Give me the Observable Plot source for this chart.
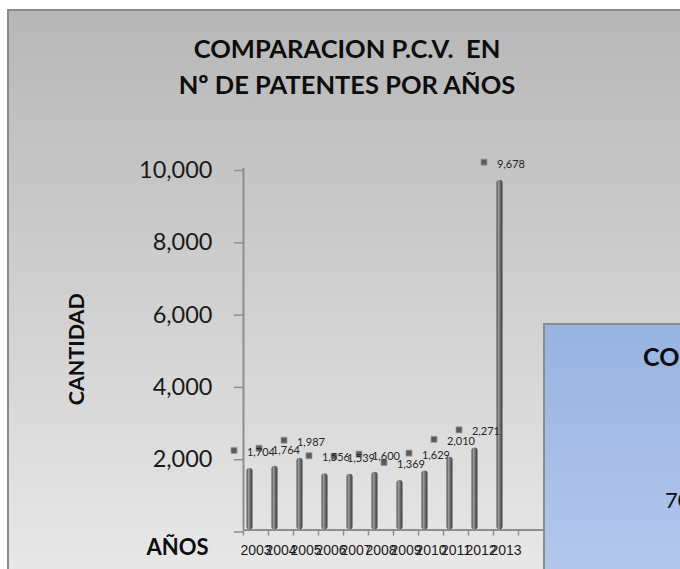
<!DOCTYPE html>
<html>
<head>
<meta charset="utf-8">
<script src="https://cdn.jsdelivr.net/npm/d3@7"></script>
<script src="https://cdn.jsdelivr.net/npm/@observablehq/plot@0.6"></script>
<style>
html,body{margin:0;padding:0;background:#fff;}
#wrap{position:relative;width:680px;height:569px;overflow:hidden;font-family:Lato,"Open Sans",sans-serif;}
#panel{position:absolute;left:7px;top:9px;width:700px;height:600px;border-left:2px solid #8a8a8a;border-top:2px solid #8a8a8a;background:linear-gradient(to bottom,#b7b7b7 0px,#e8e8e8 560px);}
#title{position:absolute;left:0;top:30px;width:694px;text-align:center;font-weight:700;font-size:25.5px;line-height:36px;color:#0d0d0d;white-space:pre;}
#chart{position:absolute;left:0;top:110px;}
#box{position:absolute;left:543px;top:323px;width:200px;height:260px;border:2px solid #8c8c8c;background:linear-gradient(to bottom,#98b3e2,#b5c8ec);z-index:5;}
#box span{position:absolute;white-space:nowrap;color:#0d0d0d;}
</style>
</head>
<body>
<div id="wrap">
  <div id="panel"></div>
  <div id="title">COMPARACION P.C.V.  EN
Nº DE PATENTES POR AÑOS</div>
  <div id="chart"></div>
  <div id="box">
    <span style="left:98px;top:19px;font-size:25px;line-height:25px;font-weight:700;">CO</span>
    <span style="left:120px;top:164px;font-size:22px;line-height:22px;">70</span>
  </div>
</div>
<script>
const years = ["2003","2004","2005","2006","2007","2008","2009","2010","2011","2012","2013"];
const patentes = [1704, 1764, 1987, 1556, 1539, 1600, 1369, 1629, 2010, 2271, 9678];
const yTicks = [0, 2000, 4000, 6000, 8000, 10000];
const yTitle = "CANTIDAD";
const xTitle = "AÑOS";

const data = years.map((year, i) => ({year, value: patentes[i]}));
const fmt = d3.format(",");
const axisGray = "#8e8e8e";
const font = "Lato, 'Open Sans', sans-serif";

const chart = Plot.plot({
  width: 680,
  height: 459,
  marginLeft: 243,
  marginRight: 137,
  marginTop: 58,
  marginBottom: 39.5,
  style: {background: "transparent", overflow: "visible"},
  x: {domain: years, range: [243, 518], padding: 0},
  y: {domain: [0, 10000]},
  marks: [
    Plot.ruleY([0], {stroke: axisGray, strokeWidth: 2}),
    Plot.ruleX([years[0]], {dx: -12.5, stroke: axisGray, strokeWidth: 2}),
    Plot.axisY({ticks: yTicks, tickSize: 9, tickPadding: 22, stroke: axisGray, strokeWidth: 1.5,
      fill: "#1a1a1a", fontSize: 23.5, fontFamily: font,
      tickFormat: d => d === 0 ? "" : fmt(d), label: null, dy: 2}),
    Plot.axisX({tickSize: 6, dx: -12.5, tickFormat: () => "", stroke: axisGray, strokeWidth: 1.5, label: null}),
    Plot.axisX({ticks: [years[years.length - 1]], tickSize: 6, dx: 12.5, tickFormat: () => "", stroke: axisGray, strokeWidth: 1.5, label: null}),
    Plot.axisX({tickSize: 0, tickPadding: 15.5, fontSize: 14, fill: "#1a1a1a",
      fontFamily: "'Liberation Sans Narrow', 'Liberation Sans', sans-serif", label: null,
      ariaLabel: "year-labels"}),
    Plot.barY(data, {x: "year", y: "value", insetLeft: 3.5, insetRight: 15.5, fill: "url(#cyl)", rx: 3}),
    Plot.dot(data, {x: "year", y: "value", dx: -22, dy: -18, symbol: "square", r: 3.4,
      fill: "#5b5b5b", stroke: "#9a9a9a", strokeWidth: 0.8}),
    Plot.text(data, {x: "year", y: "value", text: d => fmt(d.value), dx: 5, dy: -16,
      fontSize: 11, fill: "#262626", fontFamily: font}),
    Plot.text([yTitle], {text: d => d, frameAnchor: "left", textAnchor: "middle", dx: -166, rotate: -90,
      fontSize: 21.5, fontWeight: "bold", fill: "#0d0d0d", fontFamily: font}),
    Plot.text([xTitle], {text: d => d, frameAnchor: "bottom-left", textAnchor: "middle", dx: -66, dy: 25,
      fontSize: 22, fontWeight: "bold", fill: "#0d0d0d", fontFamily: font})
  ]
});

const svg = chart.tagName.toLowerCase() === "svg" ? chart : chart.querySelector("svg");
const NS = "http://www.w3.org/2000/svg";
const defs = document.createElementNS(NS, "defs");
const grad = document.createElementNS(NS, "linearGradient");
grad.setAttribute("id", "cyl");
grad.setAttribute("x1", "0"); grad.setAttribute("x2", "1");
grad.setAttribute("y1", "0"); grad.setAttribute("y2", "0");
[["0", "#4a4a4a"], ["0.35", "#9c9c9c"], ["0.6", "#6e6e6e"], ["1", "#3a3a3a"]].forEach(([o, c]) => {
  const s = document.createElementNS(NS, "stop");
  s.setAttribute("offset", o); s.setAttribute("stop-color", c);
  grad.appendChild(s);
});
defs.appendChild(grad);
svg.insertBefore(defs, svg.firstChild);

// condense the year labels so they sit within their 25px bands
svg.querySelectorAll('[aria-label="year-labels"] text, [aria-label="x-axis tick label"] text').forEach(t => {
  if (t.textContent.trim()) {
    t.setAttribute("textLength", "24");
    t.setAttribute("lengthAdjust", "spacingAndGlyphs");
  }
});

document.getElementById("chart").appendChild(chart);
</script>
</body>
</html>
